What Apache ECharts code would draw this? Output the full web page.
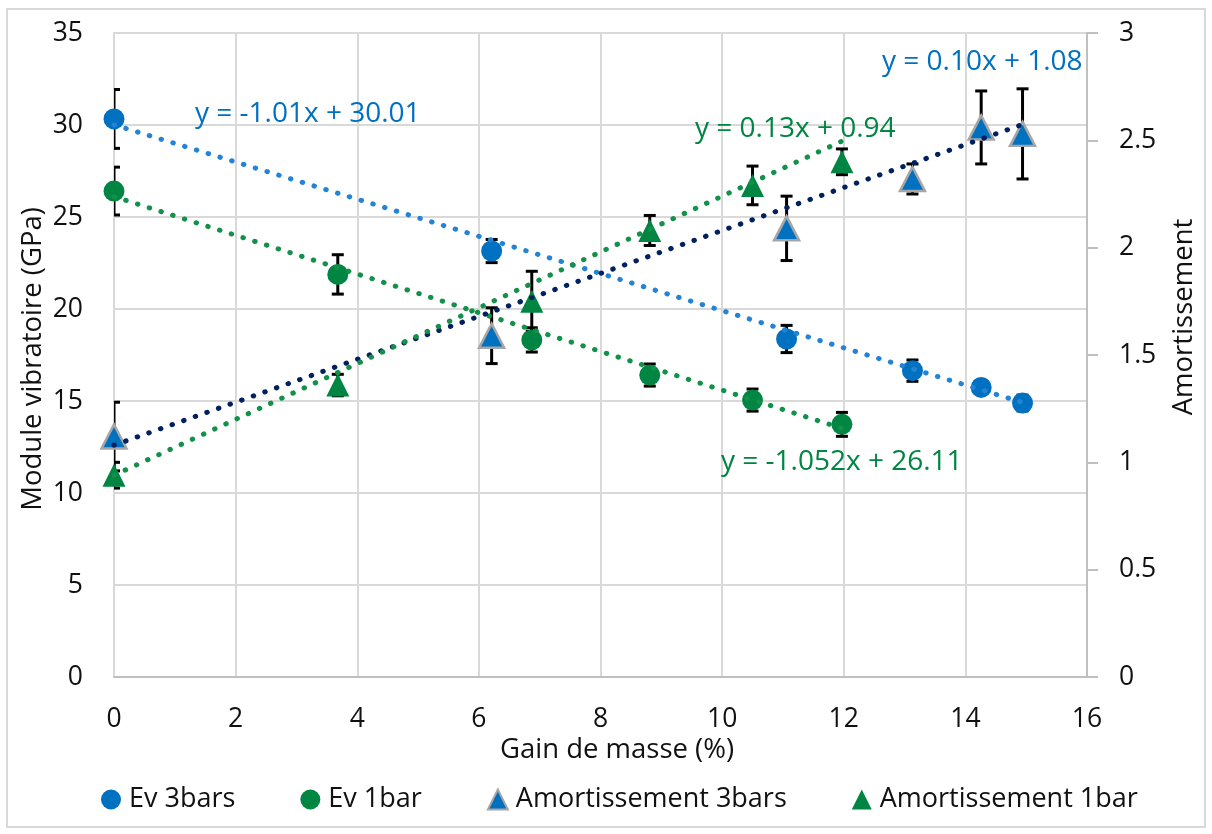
<!DOCTYPE html>
<html>
<head>
<meta charset="utf-8">
<title>Module vibratoire et amortissement</title>
<script src="https://cdn.jsdelivr.net/npm/echarts@6/dist/echarts.min.js"></script>
<style>
  html, body { margin: 0; padding: 0; background: #fff; }
  #chart { width: 1212px; height: 834px; }
</style>
</head>
<body>
<div id="chart"></div>
<script>
// Mass gain (%) for each test group
const gain3bars = [0, 6.21, 11.06, 13.13, 14.26, 14.94];
const gain1bar  = [0, 3.68, 6.87, 8.81, 10.5, 11.97];

// Vibratory modulus (GPa) with standard deviations
const ev3bars    = [30.33, 23.15, 18.37, 16.65, 15.74, 14.89];
const ev3barsErr = [1.6, 0.63, 0.74, 0.58, 0.35, 0.43];
const ev1bar     = [26.41, 21.88, 18.32, 16.41, 15.05, 13.73];
const ev1barErr  = [1.3, 1.07, 0.66, 0.6, 0.6, 0.65];

// Damping with standard deviations
const amort3bars    = [1.12, 1.59, 2.09, 2.32, 2.56, 2.53];
const amort3barsErr = [0.16, 0.13, 0.15, 0.07, 0.17, 0.21];
const amort1bar     = [0.94, 1.36, 1.75, 2.08, 2.29, 2.40];
const amort1barErr  = [0.06, 0.05, 0.14, 0.07, 0.09, 0.06];

// Linear trend coefficients (slope, intercept) as displayed
const trendEv3     = ['-1.01', '30.01'];
const trendEv1     = ['-1.052', '26.11'];
const trendAmort3  = ['0.10', '1.08'];
const trendAmort1  = ['0.13', '0.94'];

// Axis ticks
const xTicks  = { min: 0, max: 16, step: 2 };
const yLeft   = { min: 0, max: 35, step: 5 };
const yRight  = { min: 0, max: 3, step: 0.5 };

const seriesNames = ['Ev 3bars', 'Ev 1bar', 'Amortissement 3bars', 'Amortissement 1bar'];

const BLUE = '#0070C0';
const GREEN = '#008542';
const FONT = 'Open Sans';

function zip(xs, ys) { return xs.map((x, i) => [x, ys[i]]); }
function zipErr(xs, ys, es) { return xs.map((x, i) => [x, ys[i], es[i]]); }
function trendPoints(xs, coef) {
  const m = parseFloat(coef[0]), b = parseFloat(coef[1]);
  const x0 = xs[0], x1 = xs[xs.length - 1];
  return [[x0, m * x0 + b], [x1, m * x1 + b]];
}
function equation(coef) { return 'y = ' + coef[0] + 'x + ' + coef[1]; }

function errorBar(params, api) {
  const x = api.value(0), y = api.value(1), e = api.value(2);
  const top = api.coord([x, y + e]);
  const bot = api.coord([x, y - e]);
  const hw = 6;
  const st = { stroke: '#000', lineWidth: 3 };
  return {
    type: 'group',
    children: [
      { type: 'line', shape: { x1: top[0], y1: top[1], x2: bot[0], y2: bot[1] }, style: st },
      { type: 'line', shape: { x1: top[0] - hw, y1: top[1], x2: top[0] + hw, y2: top[1] }, style: st },
      { type: 'line', shape: { x1: bot[0] - hw, y1: bot[1], x2: bot[0] + hw, y2: bot[1] }, style: st }
    ]
  };
}

function errSeries(data, yIndex) {
  return {
    type: 'custom', renderItem: errorBar, data: data, yAxisIndex: yIndex,
    encode: { x: 0, y: 1 }, clip: true, z: 1, silent: true
  };
}

function trendSeries(data, color, yIndex) {
  return {
    type: 'line', data: data, yAxisIndex: yIndex, showSymbol: false, symbol: 'none',
    z: 4, silent: true,
    lineStyle: { color: color, width: 5, type: [0.5, 11.8], cap: 'round' }
  };
}

const chart = echarts.init(document.getElementById('chart'), null, { renderer: 'canvas' });

const labelStyle = { color: '#111', fontFamily: FONT, fontSize: 26.5 };
const titleFont = '27.5px "Open Sans"';
const eqFont = '28px "Open Sans"';

chart.setOption({
  backgroundColor: '#fff',
  animation: false,
  textStyle: { fontFamily: FONT },
  grid: { left: 114, right: 125, top: 33, bottom: 157 },
  legend: {
    data: seriesNames,
    left: 101, top: 786, padding: 0,
    itemWidth: 20, itemHeight: 20, itemGap: 65,
    textStyle: { color: '#111', fontFamily: FONT, fontSize: 27, padding: [0, 0, 0, 3] }
  },
  xAxis: {
    type: 'value', min: xTicks.min, max: xTicks.max, interval: xTicks.step,
    axisLine: { show: true, onZero: false, lineStyle: { color: '#BFBFBF', width: 2 } },
    axisTick: { show: false },
    axisLabel: Object.assign({ margin: 29 }, labelStyle),
    splitLine: { show: true, lineStyle: { color: '#D9D9D9', width: 2 } }
  },
  yAxis: [
    {
      type: 'value', min: yLeft.min, max: yLeft.max, interval: yLeft.step,
      axisLine: { show: true, lineStyle: { color: '#D9D9D9', width: 2 } },
      axisTick: { show: false },
      axisLabel: Object.assign({ margin: 31 }, labelStyle),
      splitLine: { show: true, lineStyle: { color: '#D9D9D9', width: 2 } }
    },
    {
      type: 'value', position: 'right', min: yRight.min, max: yRight.max, interval: yRight.step,
      axisLine: { show: true, lineStyle: { color: '#BFBFBF', width: 2 } },
      axisTick: { show: true, inside: false, length: 11, lineStyle: { color: '#BFBFBF', width: 2 } },
      axisLabel: Object.assign({ margin: 32 }, labelStyle),
      splitLine: { show: false }
    }
  ],
  graphic: [
    { type: 'rect', shape: { x: 7, y: 9, width: 1198, height: 818 },
      style: { fill: 'none', stroke: '#D9D9D9', lineWidth: 2 }, z: -10, silent: true },
    { type: 'text', x: 33, y: 359, rotation: Math.PI / 2,
      style: { text: 'Module vibratoire (GPa)', fill: '#111', font: titleFont, align: 'center', verticalAlign: 'middle' } },
    { type: 'text', x: 1184, y: 317, rotation: Math.PI / 2,
      style: { text: 'Amortissement', fill: '#111', font: titleFont, align: 'center', verticalAlign: 'middle' } },
    { type: 'text', x: 617, y: 750,
      style: { text: 'Gain de masse (%)', fill: '#111', font: titleFont, align: 'center', verticalAlign: 'middle' } },
    { type: 'text', x: 195, y: 114, z: 10,
      style: { text: equation(trendEv3), fill: BLUE, font: eqFont, align: 'left', verticalAlign: 'middle' } },
    { type: 'text', x: 695, y: 129, z: 10,
      style: { text: equation(trendAmort1), fill: GREEN, font: eqFont, align: 'left', verticalAlign: 'middle' } },
    { type: 'text', x: 882, y: 62, z: 10,
      style: { text: equation(trendAmort3), fill: BLUE, font: eqFont, align: 'left', verticalAlign: 'middle' } },
    { type: 'text', x: 721, y: 462, z: 10,
      style: { text: equation(trendEv1), fill: GREEN, font: eqFont, align: 'left', verticalAlign: 'middle' } }
  ],
  series: [
    errSeries(zipErr(gain3bars, ev3bars, ev3barsErr), 0),
    errSeries(zipErr(gain1bar, ev1bar, ev1barErr), 0),
    errSeries(zipErr(gain3bars, amort3bars, amort3barsErr), 1),
    errSeries(zipErr(gain1bar, amort1bar, amort1barErr), 1),
    {
      name: seriesNames[0], type: 'scatter', yAxisIndex: 0, z: 2,
      data: zip(gain3bars, ev3bars), symbol: 'circle', symbolSize: 21,
      itemStyle: { color: BLUE, opacity: 1 }
    },
    {
      name: seriesNames[1], type: 'scatter', yAxisIndex: 0, z: 2,
      data: zip(gain1bar, ev1bar), symbol: 'circle', symbolSize: 21,
      itemStyle: { color: GREEN, opacity: 1 }
    },
    {
      name: seriesNames[2], type: 'scatter', yAxisIndex: 1, z: 3,
      data: zip(gain3bars, amort3bars), symbol: 'triangle', symbolSize: [25, 24],
      itemStyle: { color: BLUE, borderColor: '#A6A6A6', borderWidth: 2.5, opacity: 1 }
    },
    {
      name: seriesNames[3], type: 'scatter', yAxisIndex: 1, z: 3,
      data: zip(gain1bar, amort1bar), symbol: 'triangle', symbolSize: [23, 23],
      itemStyle: { color: GREEN, opacity: 1 }
    },
    trendSeries(trendPoints(gain3bars, trendEv3), '#2383D6', 0),
    trendSeries(trendPoints(gain1bar, trendEv1), '#13904A', 0),
    trendSeries(trendPoints(gain3bars, trendAmort3), '#002060', 1),
    trendSeries(trendPoints(gain1bar, trendAmort1), '#13904A', 1)
  ]
});
</script>
</body>
</html>
